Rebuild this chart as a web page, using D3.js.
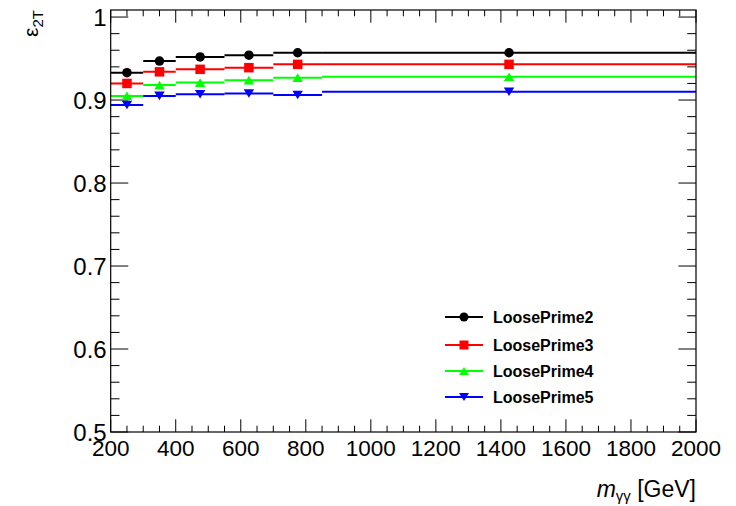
<!DOCTYPE html>
<html>
<head>
<meta charset="utf-8">
<script src="https://cdn.jsdelivr.net/npm/d3@7"></script>
<style>
  html, body { margin: 0; padding: 0; background: #fff; }
  svg { display: block; font-family: "Liberation Sans", Arial, Helvetica, sans-serif; }
</style>
</head>
<body>
<svg id="chart" width="736" height="506"></svg>
<script>
// Mass bins (GeV) and their centres
const binEdges = [200, 300, 400, 550, 700, 850, 2000];
const binCenters = [250, 350, 475, 625, 775, 1425];

// Di-photon tight efficiency per working point
const seriesNames = ["LoosePrime2", "LoosePrime3", "LoosePrime4", "LoosePrime5"];
const loosePrime2 = [0.933, 0.947, 0.952, 0.954, 0.957, 0.957];
const loosePrime3 = [0.920, 0.934, 0.937, 0.939, 0.943, 0.943];
const loosePrime4 = [0.905, 0.918, 0.921, 0.924, 0.927, 0.928];
const loosePrime5 = [0.894, 0.905, 0.907, 0.908, 0.906, 0.910];

const xTickValues = [200, 400, 600, 800, 1000, 1200, 1400, 1600, 1800, 2000];
const yTickValues = [0.5, 0.6, 0.7, 0.8, 0.9, 1.0];
const yTickLabels = ["0.5", "0.6", "0.7", "0.8", "0.9", "1"];

const seriesValues = [loosePrime2, loosePrime3, loosePrime4, loosePrime5];
const colors = ["#000000", "#ff0000", "#00ff00", "#0000ff"];
const shapes = ["circle", "square", "triangleUp", "triangleDown"];

const svg = d3.select("#chart");
const frame = { left: 110.7, right: 696, top: 10, bottom: 432 };

const x = d3.scaleLinear().domain([200, 2000]).range([frame.left, frame.right]);
const y = d3.scaleLinear().domain([0.5, 1.0085]).range([frame.bottom, frame.top]);

// ROOT-style tick lengths: 3% of the frame size on each axis
const xMajor = 12.7, xMinor = 6.3, yMajor = 17.6, yMinor = 8.8;

const xMinorVals = d3.range(200, 2000.1, 50).filter(v => v % 200 !== 0);
const yMinorVals = d3.range(0, 25).map(i => 0.5 + i * 0.02).filter((v, i) => i % 5 !== 0 && v <= 1.0085);

const ticks = svg.append("g").attr("stroke", "#000").attr("stroke-width", 1);
// bottom & top
xTickValues.forEach(v => {
  ticks.append("line").attr("x1", x(v)).attr("x2", x(v)).attr("y1", frame.bottom).attr("y2", frame.bottom - xMajor);
  ticks.append("line").attr("x1", x(v)).attr("x2", x(v)).attr("y1", frame.top).attr("y2", frame.top + xMajor);
});
xMinorVals.forEach(v => {
  ticks.append("line").attr("x1", x(v)).attr("x2", x(v)).attr("y1", frame.bottom).attr("y2", frame.bottom - xMinor);
  ticks.append("line").attr("x1", x(v)).attr("x2", x(v)).attr("y1", frame.top).attr("y2", frame.top + xMinor);
});
// left & right
yTickValues.forEach(v => {
  ticks.append("line").attr("y1", y(v)).attr("y2", y(v)).attr("x1", frame.left).attr("x2", frame.left + yMajor);
  ticks.append("line").attr("y1", y(v)).attr("y2", y(v)).attr("x1", frame.right).attr("x2", frame.right - yMajor);
});
yMinorVals.forEach(v => {
  ticks.append("line").attr("y1", y(v)).attr("y2", y(v)).attr("x1", frame.left).attr("x2", frame.left + yMinor);
  ticks.append("line").attr("y1", y(v)).attr("y2", y(v)).attr("x1", frame.right).attr("x2", frame.right - yMinor);
});

// Tick labels
svg.append("g").selectAll("text").data(xTickValues).join("text")
  .attr("x", d => x(d)).attr("y", 456)
  .attr("text-anchor", "middle").attr("font-size", 22.5)
  .text(d => d);
svg.append("g").selectAll("text").data(yTickValues).join("text")
  .attr("x", frame.left - 4).attr("y", d => y(d) + 9)
  .attr("text-anchor", "end").attr("font-size", 24)
  .text((d, i) => yTickLabels[i]);

// Axis titles
const xt = svg.append("text").attr("x", frame.right).attr("y", 497)
  .attr("text-anchor", "end").attr("font-size", 23);
xt.append("tspan").attr("font-style", "italic").text("m");
xt.append("tspan").attr("font-size", 15).attr("dy", 4).text("γγ");
xt.append("tspan").attr("dy", -4).text(" [GeV]");

const yt = svg.append("text").attr("transform", "translate(38,10) rotate(-90)")
  .attr("text-anchor", "end").attr("font-size", 21);
yt.append("tspan").text("ε");
yt.append("tspan").attr("font-size", 15).attr("dy", 5).text("2T");

// Marker drawing
function marker(g, shape, cx, cy, color, s) {
  if (shape === "circle") {
    g.append("circle").attr("cx", cx).attr("cy", cy).attr("r", s / 2).attr("fill", color);
  } else if (shape === "square") {
    g.append("rect").attr("x", cx - s / 2).attr("y", cy - s / 2).attr("width", s).attr("height", s).attr("fill", color);
  } else {
    const h = s * 0.9, w = s * 0.55;
    const pts = shape === "triangleUp"
      ? [[cx - w, cy + h / 2], [cx + w, cy + h / 2], [cx, cy - h / 2]]
      : [[cx - w, cy - h / 2], [cx + w, cy - h / 2], [cx, cy + h / 2]];
    g.append("polygon").attr("points", pts.map(p => p.join(",")).join(" ")).attr("fill", color);
  }
}

// Series: horizontal bin-width bars with markers at the bin centres
seriesValues.forEach((vals, si) => {
  const g = svg.append("g");
  vals.forEach((v, i) => {
    g.append("line")
      .attr("x1", x(binEdges[i])).attr("x2", x(binEdges[i + 1]))
      .attr("y1", y(v)).attr("y2", y(v))
      .attr("stroke", colors[si]).attr("stroke-width", 2);
  });
  vals.forEach((v, i) => marker(g, shapes[si], x(binCenters[i]), y(v), colors[si], 9.5));
});

// Frame
svg.append("rect").attr("x", frame.left).attr("y", frame.top)
  .attr("width", frame.right - frame.left).attr("height", frame.bottom - frame.top)
  .attr("fill", "none").attr("stroke", "#000").attr("stroke-width", 1.2);

// Legend
const legendRows = [317, 345, 371, 397];
const lg = svg.append("g");
seriesNames.forEach((name, i) => {
  const ly = legendRows[i];
  lg.append("line").attr("x1", 445).attr("x2", 483).attr("y1", ly).attr("y2", ly)
    .attr("stroke", colors[i]).attr("stroke-width", 2);
  marker(lg, shapes[i], 464, ly, colors[i], 9);
  lg.append("text").attr("x", 493).attr("y", ly + 6)
    .attr("font-size", 16).attr("font-weight", "bold").text(name);
});
</script>
</body>
</html>
